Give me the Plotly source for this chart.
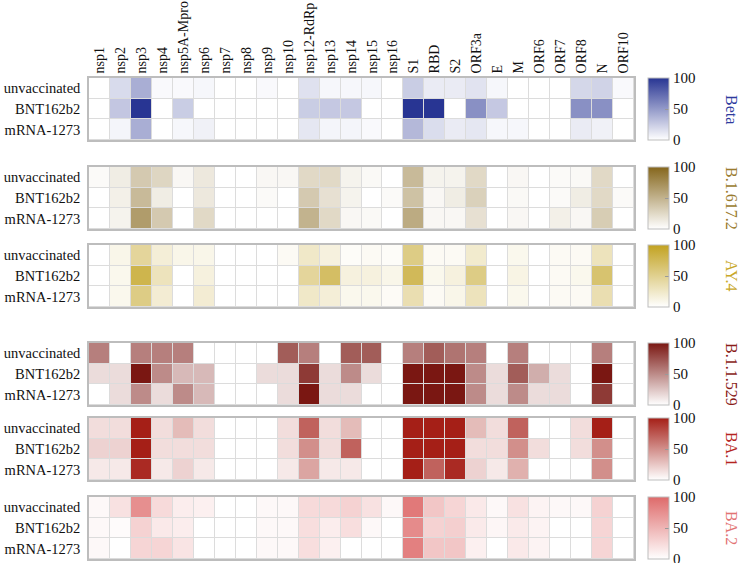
import plotly.graph_objects as go

genes = ["nsp1", "nsp2", "nsp3", "nsp4", "nsp5A-Mpro", "nsp6", "nsp7", "nsp8", "nsp9",
         "nsp10", "nsp12-RdRp", "nsp13", "nsp14", "nsp15", "nsp16", "S1", "RBD", "S2",
         "ORF3a", "E", "M", "ORF6", "ORF7", "ORF8", "N", "ORF10"]
groups = ["unvaccinated", "BNT162b2", "mRNA-1273"]
variants = ["Beta", "B.1.617.2", "AY.4", "B.1.1.529", "BA.1", "BA.2"]

beta = [
    [0, 18, 40, 3, 3, 4, 0, 0, 3, 0, 15, 4, 4, 4, 0, 25, 10, 10, 14, 4, 0, 0, 0, 20, 22, 3],
    [0, 28, 100, 0, 25, 0, 0, 0, 0, 0, 25, 27, 27, 0, 0, 100, 100, 0, 55, 27, 0, 0, 0, 55, 55, 0],
    [0, 5, 40, 0, 4, 7, 0, 0, 0, 0, 12, 5, 5, 3, 0, 35, 17, 10, 12, 4, 4, 0, 0, 10, 7, 0],
]
b16172 = [
    [3, 12, 35, 27, 5, 15, 0, 0, 5, 5, 25, 25, 8, 4, 0, 45, 8, 8, 25, 0, 5, 0, 3, 4, 25, 0],
    [0, 10, 45, 12, 0, 15, 0, 0, 3, 0, 35, 20, 8, 0, 3, 40, 5, 12, 30, 0, 4, 0, 3, 12, 25, 3],
    [0, 8, 65, 35, 0, 25, 0, 0, 0, 0, 50, 25, 5, 4, 0, 55, 5, 5, 20, 0, 5, 0, 10, 5, 33, 0],
]
ay4 = [
    [0, 10, 45, 18, 10, 10, 0, 0, 0, 5, 25, 15, 3, 5, 3, 55, 5, 5, 22, 0, 8, 0, 5, 5, 30, 0],
    [0, 8, 80, 30, 0, 15, 0, 0, 0, 0, 45, 70, 15, 15, 10, 75, 8, 15, 55, 0, 12, 0, 5, 8, 65, 0],
    [0, 8, 55, 20, 0, 20, 0, 0, 0, 0, 25, 18, 8, 8, 4, 35, 5, 10, 30, 0, 8, 0, 5, 5, 35, 0],
]
b11529 = [
    [55, 0, 55, 55, 55, 0, 0, 0, 0, 70, 55, 0, 70, 70, 0, 55, 70, 60, 55, 0, 55, 0, 0, 0, 55, 0],
    [15, 15, 100, 50, 30, 30, 0, 0, 15, 15, 85, 15, 50, 15, 0, 100, 100, 100, 50, 15, 70, 35, 15, 0, 100, 0],
    [0, 15, 50, 15, 50, 30, 0, 0, 0, 15, 100, 15, 15, 0, 0, 100, 100, 100, 50, 15, 50, 15, 15, 0, 85, 0],
]
ba1 = [
    [15, 15, 100, 15, 30, 15, 0, 0, 0, 15, 70, 15, 30, 0, 0, 100, 100, 100, 30, 15, 70, 0, 0, 15, 100, 0],
    [20, 20, 100, 15, 15, 15, 0, 0, 0, 15, 50, 15, 70, 0, 0, 100, 100, 100, 15, 15, 50, 15, 0, 15, 50, 0],
    [10, 10, 95, 10, 20, 10, 0, 0, 0, 10, 40, 10, 10, 0, 0, 100, 70, 95, 20, 10, 35, 0, 0, 0, 50, 0],
]
ba2 = [
    [5, 20, 75, 25, 12, 10, 0, 0, 5, 5, 25, 25, 30, 20, 5, 90, 38, 28, 15, 5, 20, 8, 5, 5, 30, 0],
    [5, 3, 30, 15, 12, 0, 0, 0, 5, 5, 22, 12, 22, 5, 0, 78, 30, 32, 14, 6, 14, 8, 0, 0, 28, 0],
    [5, 0, 28, 28, 18, 0, 0, 0, 5, 5, 22, 10, 0, 0, 0, 85, 38, 38, 10, 0, 15, 8, 0, 0, 28, 0],
]
values = [beta, b16172, ay4, b11529, ba1, ba2]

max_colors = ["#283593", "#85661c", "#c2a221", "#7a1712", "#a51f17", "#de6a6a"]
label_colors = ["#2d3a9e", "#9a7b2e", "#c9a82a", "#8a1c18", "#b52420", "#e27373"]

W, H = 739, 563
panels_px = [(78, 140), (167, 229), (245, 307), (343, 405), (418, 480), (497, 559)]
x0_px, x1_px = 89, 634
cb_x = 648
lab_x = 732
font_family = "Liberation Serif"

fig = go.Figure()
layout = {}
annotations = []
for i, (name, z) in enumerate(zip(variants, values)):
    top, bot = panels_px[i]
    k = "" if i == 0 else str(i + 1)
    fig.add_trace(go.Heatmap(
        z=z, x=genes, y=groups,
        xaxis="x" + k, yaxis="y" + k,
        zmin=0, zmax=100,
        colorscale=[[0, "#ffffff"], [1, max_colors[i]]],
        xgap=1, ygap=1,
        colorbar=dict(
            x=cb_x / W, xanchor="left",
            y=1 - (top + bot) / 2 / H, yanchor="middle",
            len=bot - top, lenmode="pixels",
            thickness=21, thicknessmode="pixels",
            xpad=0, ypad=0,
            outlinewidth=1, outlinecolor="#bdbdbd",
            tickvals=[0, 50, 100], ticktext=["0", "50", "100"],
            ticks="inside", ticklen=4, tickcolor="#999999",
            ticklabeloverflow="allow",
            tickfont=dict(family=font_family, size=15, color="#111111"),
        ),
        hovertemplate="%{y}<br>%{x}: %{z}<extra>" + name + "</extra>",
    ))
    layout["xaxis" + k] = dict(
        domain=[x0_px / W, x1_px / W], anchor="y" + k,
        side="top", tickangle=-90, showticklabels=(i == 0),
        ticks="", showgrid=False, zeroline=False, automargin=False,
        showline=True, mirror=True, linecolor="#bdbdbd", linewidth=1.5,
        tickfont=dict(family=font_family, size=14, color="#111111"),
        fixedrange=True,
    )
    layout["yaxis" + k] = dict(
        domain=[1 - bot / H, 1 - top / H], anchor="x" + k,
        autorange="reversed", ticks="", showgrid=False, zeroline=False,
        automargin=False,
        showline=True, mirror=True, linecolor="#bdbdbd", linewidth=1.5,
        tickfont=dict(family=font_family, size=14.5, color="#111111"),
        ticklabelstandoff=4,
        fixedrange=True,
    )
    annotations.append(dict(
        x=lab_x / W, y=1 - (top + bot) / 2 / H, xref="paper", yref="paper",
        text=name, showarrow=False, textangle=90,
        xanchor="center", yanchor="middle",
        font=dict(family=font_family, size=16, color=label_colors[i]),
    ))

fig.update_layout(
    width=W, height=H,
    margin=dict(l=0, r=0, t=0, b=0, pad=0, autoexpand=False),
    paper_bgcolor="white", plot_bgcolor="#dcdcdc",
    annotations=annotations,
    font=dict(family=font_family),
    **layout,
)

fig.write_html(
    "out.html",
    config={"displayModeBar": False},
    post_script="document.body.style.margin='0px';document.body.style.overflow='hidden';",
)
